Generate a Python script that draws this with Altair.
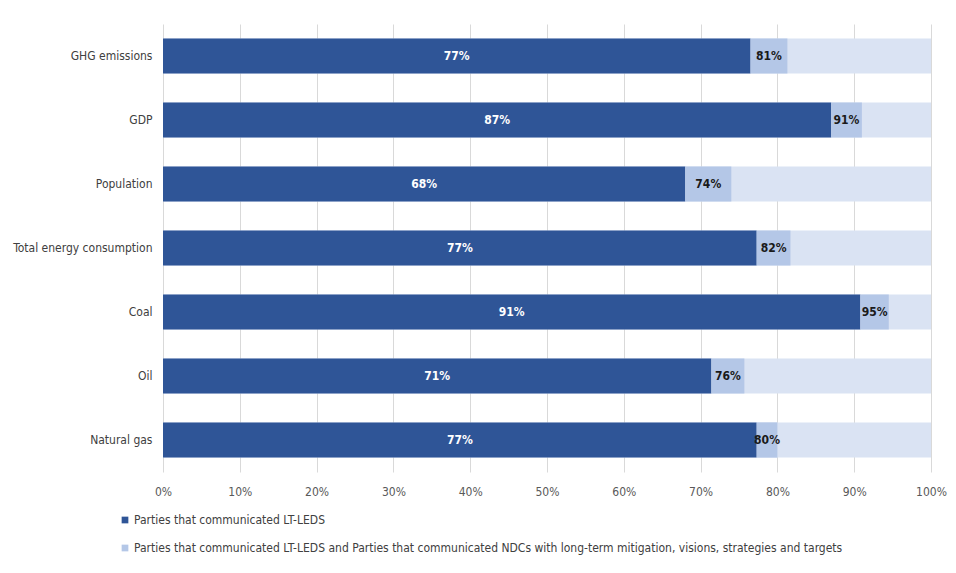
import altair as alt
import pandas as pd

categories = ["GHG emissions", "GDP", "Population", "Total energy consumption", "Coal", "Oil", "Natural gas"]
lt_leds = [76.5, 87.0, 68.0, 77.3, 90.8, 71.4, 77.3]
lt_leds_ndc = [81.3, 91.0, 74.0, 81.7, 94.5, 75.7, 80.0]
lt_leds_labels = ["77%", "87%", "68%", "77%", "91%", "71%", "77%"]
lt_leds_ndc_labels = ["81%", "91%", "74%", "82%", "95%", "76%", "80%"]
series_names = [
    "Parties that communicated LT-LEDS",
    "Parties that communicated LT-LEDS and Parties that communicated NDCs with long-term mitigation, visions, strategies and targets",
]
x_ticks = [0, 10, 20, 30, 40, 50, 60, 70, 80, 90, 100]

FONT = "Liberation Sans Narrow, DejaVu Sans Condensed, Roboto, sans-serif"

bg = pd.DataFrame({"cat": categories, "start": [0] * 7, "end": [100] * 7})
rows = []
for c, a, b, la, lb in zip(categories, lt_leds, lt_leds_ndc, lt_leds_labels, lt_leds_ndc_labels):
    rows.append({"cat": c, "series": series_names[0], "start": 0, "end": a, "mid": a / 2, "label": la})
    rows.append({"cat": c, "series": series_names[1], "start": a, "end": b, "mid": (a + b) / 2, "label": lb})
df = pd.DataFrame(rows)

y = alt.Y("cat:N", sort=categories, title=None,
          scale=alt.Scale(paddingInner=0.45, paddingOuter=0.225),
          axis=alt.Axis(ticks=False, domain=False, labelFontSize=12, labelColor="#404040",
                        labelPadding=11, labelFont=FONT))
xscale = alt.Scale(domain=[0, 100], nice=False)
xaxis = alt.Axis(values=x_ticks, labelExpr="datum.value + '%'", ticks=False, domain=False,
                 grid=True, gridColor="#d9d9d9", labelFontSize=12, labelColor="#595959",
                 labelPadding=14, labelFont=FONT, labelFlush=False, title=None)

background = alt.Chart(bg).mark_bar(color="#dae3f3").encode(
    x=alt.X("start:Q", scale=xscale, axis=xaxis), x2="end:Q", y=y)

bars = alt.Chart(df).mark_bar().encode(
    x=alt.X("start:Q", scale=xscale, axis=xaxis), x2="end:Q", y=y,
    color=alt.Color("series:N", sort=series_names,
                    scale=alt.Scale(domain=series_names, range=["#2f5597", "#b4c7e7"]),
                    legend=alt.Legend(title=None, orient="none", legendX=-44, legendY=490,
                                      symbolType="square", symbolSize=45, labelFontSize=12,
                                      labelColor="#404040", labelFont=FONT, rowPadding=16,
                                      labelOffset=3, labelLimit=900, symbolStrokeWidth=0)))

text_dark = alt.Chart(df[df["series"] == series_names[0]]).mark_text(
    color="white", fontWeight="bold", fontSize=12, font=FONT).encode(
    x=alt.X("mid:Q", scale=xscale), y=y, text="label:N")
text_light = alt.Chart(df[df["series"] == series_names[1]]).mark_text(
    color="#1a1a1a", fontWeight="bold", fontSize=12, font=FONT).encode(
    x=alt.X("mid:Q", scale=xscale), y=y, text="label:N")

chart = alt.layer(background, bars, text_dark, text_light).properties(
    width=768, height=448,
    autosize=alt.AutoSizeParams(type="none"),
    padding={"left": 155, "top": 16, "right": 17, "bottom": 93},
    background="white",
).configure_view(stroke=None)

chart.save("out.html", embed_options={"renderer": "svg", "actions": False})
